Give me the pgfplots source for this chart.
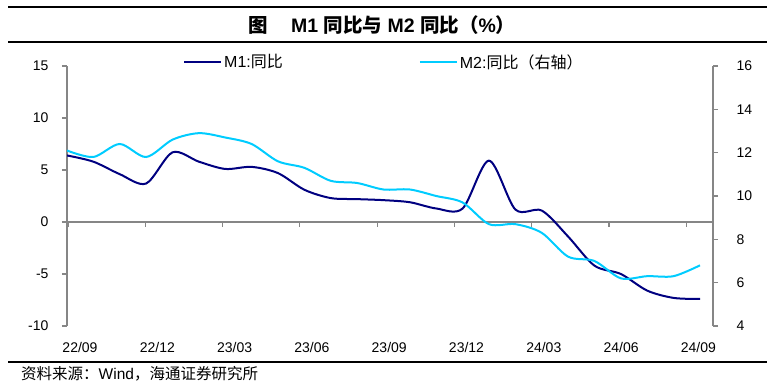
\documentclass[border=0pt]{standalone}
\usepackage{fontspec}
\setmainfont{Liberation Sans}
\newfontfamily\cjk{Noto Sans CJK SC}
\usepackage{pgfplots}
\pgfplotsset{compat=1.18}
\definecolor{mone}{RGB}{0,0,128}
\definecolor{mtwo}{RGB}{0,204,255}
\definecolor{axgray}{RGB}{134,134,134}
\newcommand{\tfont}{\fontsize{14bp}{16bp}\selectfont}
\newcommand{\lfont}{\fontsize{16bp}{18bp}\selectfont}
\begin{document}
\begin{tikzpicture}
\path[use as bounding box] (0,0) rectangle (775bp,387bp);
\draw[line width=1.3bp] (8bp,380bp) -- (767bp,380bp);
\draw[line width=1.3bp] (8bp,345bp) -- (767bp,345bp);
\draw[line width=1.3bp] (8bp,25bp) -- (767bp,25bp);
\node[anchor=west, inner sep=0pt, font=\bfseries\fontsize{19.5bp}{22bp}\selectfont] at (248bp,362bp) {{\cjk\bfseries 图}\hspace{1.2em}M1 {\cjk\bfseries 同比与} M2 {\cjk\bfseries 同比（}\%{\cjk\bfseries ）}};
\node[anchor=west, font=\fontsize{15.5bp}{17bp}\selectfont, inner sep=0pt] at (21bp,13bp) {{\cjk 资料来源：}Wind{\cjk ，海通证券研究所}};

% zero line with ticks
\begin{axis}[at={(67bp,61bp)}, anchor=south west, scale only axis, width=646bp, height=260bp,
  xmin=0, xmax=24.493, ymin=-10, ymax=15,
  axis x line=middle, axis y line=none,
  x axis line style={draw=axgray, line width=1.2bp, -},
  xtick={0.038,2.969,5.899,8.830,11.761,14.692,17.622,20.553,23.484},
  xticklabels={},
  tick align=center, major tick length=5bp,
  xtick style={draw=axgray, line width=1.2bp, yshift=-2.5bp},
]
\end{axis}

% left axis
\begin{axis}[at={(67bp,61bp)}, anchor=south west, scale only axis, width=646bp, height=260bp,
  xmin=0, xmax=24.493, ymin=-10, ymax=15,
  axis y line*=left, axis x line*=bottom,
  x axis line style={draw=none},
  y axis line style={draw=axgray, line width=1.2bp},
  ytick={-10,-5,...,15},
  tick align=outside, major tick length=5bp,
  ytick style={draw=axgray, line width=1.2bp},
  xtick={0.038,2.969,5.899,8.830,11.761,14.692,17.622,20.553,23.484},
  xticklabels={22/09,22/12,23/03,23/06,23/09,23/12,24/03,24/06,24/09},
  xtick style={draw=none},
  xticklabel style={xshift=12bp, yshift=-8bp},
  yticklabel style={xshift=-10bp},
  tick label style={font=\tfont},
  /pgf/number format/assume math mode=true,
  legend columns=2,
  legend image code/.code={\draw[#1] (0bp,0bp) -- (37bp,0bp);},
  legend style={draw=none, fill=none, at={(0.1796,1.0154)}, anchor=west, inner sep=0pt,
    font=\lfont, /tikz/every even column/.append style={column sep=134bp}},
]
\addplot[mone, line width=2bp, smooth, tension=0.5] coordinates {
(0,6.4) (1,5.8) (2,4.6) (3,3.7) (4,6.7) (5,5.8) (6,5.1) (7,5.3) (8,4.7) (9,3.1)
(10,2.3) (11,2.2) (12,2.1) (13,1.9) (14,1.3) (15,1.3) (16,5.9) (17,1.2) (18,1.1)
(19,-1.4) (20,-4.2) (21,-5.0) (22,-6.6) (23,-7.3) (24,-7.4)};
\addlegendentry{M1:{\cjk 同比}}
\addlegendimage{mtwo, line width=2bp}
\addlegendentry{M2:{\cjk 同比（右轴）}}
\end{axis}

% right axis
\begin{axis}[at={(67bp,61bp)}, anchor=south west, scale only axis, width=646bp, height=260bp,
  xmin=0, xmax=24.493, ymin=4, ymax=16,
  axis y line*=right, axis x line=none,
  y axis line style={draw=axgray, line width=1.2bp},
  ytick={4,6,...,16},
  tick align=outside, major tick length=5bp,
  ytick style={draw=axgray, line width=1.2bp},
  yticklabel style={xshift=15bp},
  tick label style={font=\tfont},
  /pgf/number format/assume math mode=true,
]
\addplot[mtwo, line width=2bp, smooth, tension=0.5] coordinates {
(0,12.1) (1,11.8) (2,12.4) (3,11.8) (4,12.6) (5,12.9) (6,12.7) (7,12.4) (8,11.6) (9,11.3)
(10,10.7) (11,10.6) (12,10.3) (13,10.3) (14,10.0) (15,9.7) (16,8.7) (17,8.7) (18,8.3)
(19,7.2) (20,7.0) (21,6.2) (22,6.3) (23,6.3) (24,6.8)};
\end{axis}
\end{tikzpicture}
\end{document}
